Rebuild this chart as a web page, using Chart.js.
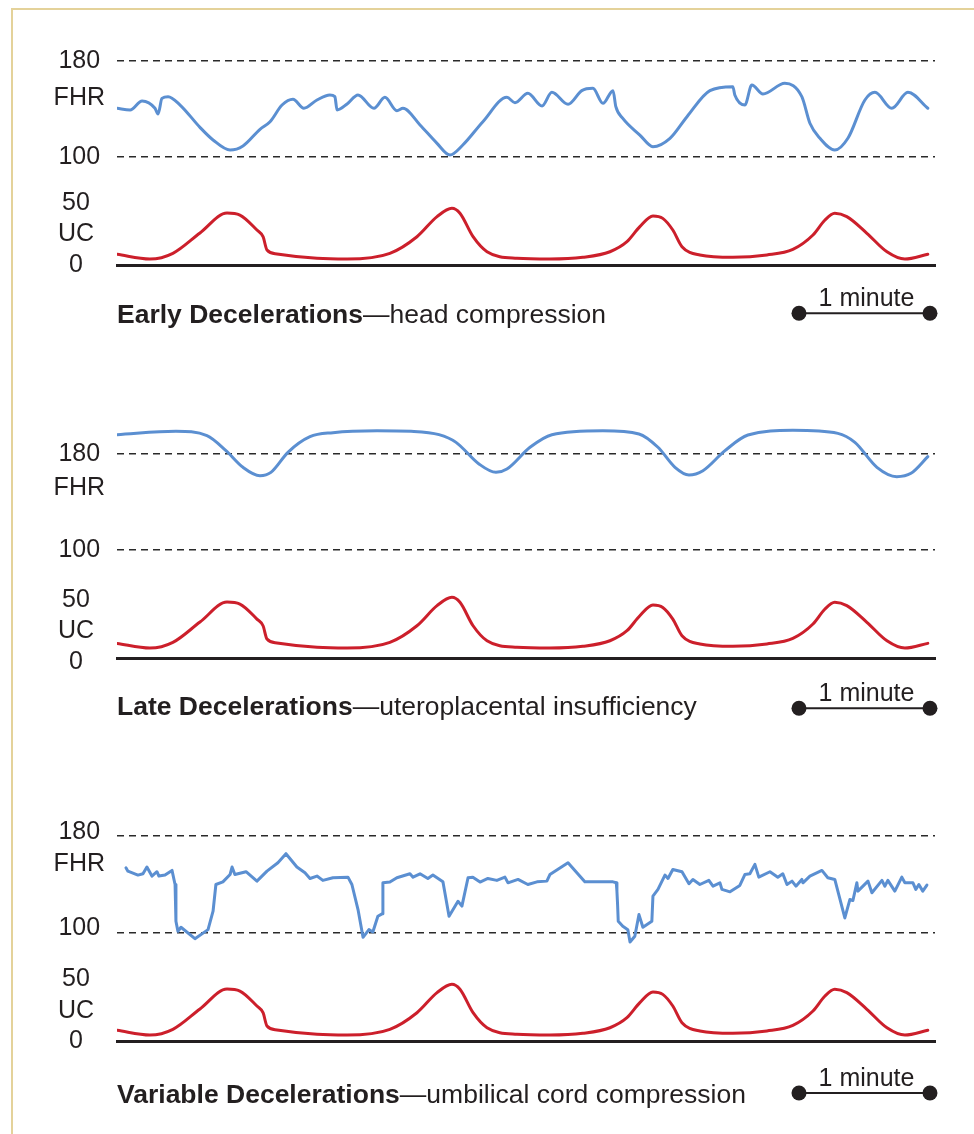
<!DOCTYPE html>
<html>
<head>
<meta charset="utf-8">
<script src="https://cdn.jsdelivr.net/npm/chart.js@4/dist/chart.umd.min.js"></script>
<style>
html,body{margin:0;padding:0;background:#fff;}
body{width:974px;height:1134px;position:relative;overflow:hidden;font-family:"Liberation Sans",Arial,Helvetica,sans-serif;color:#231f20;}
#frame{position:absolute;left:11px;top:8px;width:980px;height:1140px;border-left:2px solid #e4d29a;border-top:2px solid #e4d29a;}
canvas{position:absolute;left:40px;}
.title{position:absolute;left:117px;font-size:26.5px;line-height:30px;white-space:nowrap;}
.title b{font-weight:bold;}
.minute{position:absolute;font-size:25px;line-height:30px;white-space:nowrap;transform:translateX(-50%);}
</style>
</head>
<body>
<div id="frame"></div>
<script>
// ---------- DATA (time in seconds, FHR in bpm, UC in mmHg) ----------
const UC_TIME = [0,15.1,25.6,38.0,50.4,56.3,64.1,66.9,68.7,73.3,
  91.6,105.4,125.0,137.4,146.6,153.4,157.1,163.1,169.5,183.2,
  198.3,213.4,225.8,233.6,239.5,245.5,250.0,254.6,258.8,267.0,
  282.1,297.7,309.6,318.8,324.3,328.8,334.3,343.5,352.7,360.9,371.4];
const UC_VALUES = [8.6,4.8,9.4,25.8,41.9,40.3,28.2,22.8,12.1,8.9,
  5.4,4.8,9.4,22.8,39,45.7,41.7,22.8,10.7,5.4,
  4.8,6.2,10.7,18.8,30.9,39.5,37.6,28.2,14.8,8.1,
  6.2,8.1,12.6,24.2,36.3,41.7,39,25.6,10.7,4.8,8.6];

const EARLY_TIME = [0,6.0,11.5,17.4,18.8,20.6,23.4,28.9,38.0,44.0,
  51.8,57.7,65.5,70.1,75.6,80.6,85.6,91.6,97.5,99.8,
  100.8,105.4,110.4,117.7,122.7,128.2,131.0,138.8,146.6,152.5,
  158.4,167.6,178.6,182.3,188.2,194.7,199.2,206.6,212.9,218.0,
  222.6,227.2,228.5,231.7,239.5,245.5,253.3,261.1,271.6,282.1,
  283.0,287.6,290.8,295.9,305.9,313.7,317.4,322.0,328.8,334.8,
  342.6,347.2,354.9,362.3,371.4];
const EARLY_FHR = [140.6,139.2,146.7,140.6,135.8,148.9,150.3,143.3,124.7,114.2,
  105.8,109.2,123.1,129.4,143.3,148.1,140.6,147.5,151.7,150.3,
  139.2,144.2,151.7,140.6,149.7,138.6,140.6,126.7,111.4,101.7,
  110,129.4,149.7,145.3,153.1,142.5,153.9,143.9,155.3,157.2,
  144.7,155.3,141.9,132.2,118.3,108.6,115.6,133.6,155.3,158.6,
  151.7,143.3,160,152.5,161.4,150.3,128.1,115.6,105.8,115.6,
  147.5,153.9,140.6,153.9,140.6];

const LATE_TIME = [0,27.0,41.2,49.9,57.7,65.5,70.5,78.3,88.4,98.9,
  119.1,134.7,147.5,155.3,165.8,173.6,178.6,189.2,199.2,222.6,
  239.1,247.8,255.6,262.0,268.4,278.5,289.0,309.6,330.2,338.0,
  348.1,357.2,363.7,371.4];
const LATE_FHR = [196.1,198.9,195.3,182.8,168.9,161.9,164.7,181.4,194.4,197.8,
  199.4,198.9,196.1,189.7,171.7,164.7,167.5,185.6,196.1,199.4,
  196.7,185.6,168.9,162.5,166.1,182.8,195.8,199.7,197.2,189.7,
  168.9,161.1,163.9,177.8];

const VARIABLE_TIME = [4.1,5.0,9.6,11.9,13.7,16.0,18.3,19.2,22.0,25.2,
  26.6,27.0,27.9,29.3,35.7,41.7,44.0,45.3,48.5,51.8,
  52.7,54.0,59.1,64.1,68.7,73.7,77.4,82.4,86.1,88.4,
  91.6,94.3,98.9,105.8,107.6,110.4,112.7,115.4,117.2,119.5,
  121.4,121.8,125.0,128.2,134.2,135.6,138.8,142.4,144.7,149.3,
  152.1,156.2,158.0,160.8,163.0,166.3,169.9,174.0,177.7,179.1,
  183.7,188.2,192.4,196.9,198.3,206.6,214.3,227.2,228.7,229.0,
  229.3,229.6,231.7,234.0,235.0,237.2,239.1,240.9,245.0,245.5,
  247.8,251.0,252.4,254.6,258.8,262.0,263.8,267.0,271.1,273.0,
  276.2,277.1,280.8,285.3,287.6,289.9,292.2,294.0,299.1,302.7,
  305.0,306.9,309.2,311.0,313.7,314.2,317.4,322.9,325.6,328.8,
  333.4,335.7,337.1,338.9,339.4,344.0,345.8,350.4,351.7,353.1,
  356.3,359.5,360.9,364.6,365.9,367.3,369.1,371.0];
const VARIABLE_FHR = [153.6,150.8,147.5,148.6,154.2,146.7,150.3,146.7,147.5,151.4,
  139.7,109.2,100.8,104.2,94.7,102.2,117.5,139.7,141.9,148,
  154.2,148,150.3,142.5,150.8,157.8,165.3,154.2,149.4,144.7,
  146.7,143.1,145.3,145.8,139.7,118.9,95.8,102.2,100.3,113.3,
  115.3,141.1,141.7,145.3,148.6,145.8,148.6,144.7,147.5,141.9,
  113.3,125.8,121.7,145.3,145.8,141.7,144.7,143.1,145.8,141.1,
  143.9,139.7,141.9,142.5,148,157.8,141.9,141.9,141.1,134.2,
  123.1,109.2,105,102.2,91.9,96.7,114.7,104.2,109.2,130,
  135.6,147.5,144.7,152.2,150.3,140.3,143.9,139.7,143.1,138.3,
  141.1,135.6,133.6,138.9,148,148.6,156.4,145.8,150.3,145.8,
  148.6,139.7,142.5,138.3,143.9,141.1,146.7,151.4,145.3,143.9,
  111.9,127.2,126.4,141.1,134.2,142.5,132.8,143.1,138.3,143.1,
  134.2,145.8,141.1,141.1,135.6,139.7,134.2,139.2];

const FHR_TICKS = [100, 180];
const UC_TICKS = [0, 50];
const FHR_NAME = 'FHR';
const UC_NAME = 'UC';
const TITLE_BOLD = ['Early Decelerations', 'Late Decelerations', 'Variable Decelerations'];
const TITLE_REST = ['head compression', 'uteroplacental insufficiency', 'umbilical cord compression'];
const SCALE_LABEL = '1 minute';
const SCALE_BAR_SECONDS = 60;
const SCALE_BAR_END = 372.4;
const TIME_MAX = 374.7;

// ---------- STYLE / LAYOUT ----------
const BLUE = '#5b8fd1';
const RED = '#cc1f2b';
const INK = '#231f20';
const FONT = '"Liberation Sans", Arial, Helvetica, sans-serif';

const PANELS = [
  {time: EARLY_TIME, fhr: EARLY_FHR, top: 35, areaTop: 45, split: 181, bottom: 265,
   fhrMin: 80, fhrMax: 193.33, ucMin: 0, ucMax: 67.74, fhrName: 148.75, ucName: 25,
   fhrOff: 0, ucOff: 0, mode: 'monotone', barGap: 48.3, titleTop: 298.6, minuteTop: 282},
  {time: LATE_TIME, fhr: LATE_FHR, top: 405, areaTop: 415, split: 574, bottom: 658,
   fhrMin: 80, fhrMax: 212.5, ucMin: -3.2, ucMax: 64.54, fhrName: 151.25, ucName: 25,
   fhrOff: 0, ucOff: 8, mode: 'monotone', barGap: 50.3, titleTop: 691, minuteTop: 677},
  {time: VARIABLE_TIME, fhr: VARIABLE_FHR, top: 806, areaTop: 816, split: 956, bottom: 1041,
   fhrMin: 80.3, fhrMax: 196.6, ucMin: 0, ucMax: 68.55, fhrName: 152.9, ucName: 24,
   fhrOff: -4, ucOff: 0, mode: 'linear', barGap: 52, titleTop: 1078.6, minuteTop: 1062}
];

const scaleBarPlugin = {
  id: 'scaleBar',
  afterDraw(chart, args, opts) {
    const {ctx, chartArea, scales} = chart;
    const x1 = scales.x.getPixelForValue(SCALE_BAR_END - SCALE_BAR_SECONDS);
    const x2 = scales.x.getPixelForValue(SCALE_BAR_END);
    const y = chartArea.bottom + opts.gap;
    ctx.save();
    ctx.strokeStyle = INK; ctx.lineWidth = 2;
    ctx.beginPath(); ctx.moveTo(x1, y); ctx.lineTo(x2, y); ctx.stroke();
    ctx.fillStyle = INK;
    [x1, x2].forEach(px => { ctx.beginPath(); ctx.arc(px, y, 7.5, 0, Math.PI * 2); ctx.fill(); });
    ctx.restore();
  }
};

const X_AXIS_H = 75;
function fitLeftAxis(s) {
  s.width = 77;
  s.paddingTop = 0;
  s.paddingBottom = 0;
}

PANELS.forEach((p, idx) => {
  const H = p.bottom + X_AXIS_H - p.top;
  const canvas = document.createElement('canvas');
  canvas.width = 900; canvas.height = H;
  canvas.style.top = p.top + 'px';
  canvas.style.width = '900px'; canvas.style.height = H + 'px';
  document.body.appendChild(canvas);

  const fhrTickVals = FHR_TICKS.concat([p.fhrName]);
  const ucTickVals = UC_TICKS.concat([p.ucName]);
  const tickFont = {family: FONT, size: 25};

  const chart = new Chart(canvas, {
    type: 'line',
    data: {
      datasets: [
        {data: p.time.map((t, i) => ({x: t, y: p.fhr[i]})), yAxisID: 'fhr',
         borderColor: BLUE, borderWidth: 3, pointRadius: 0, fill: false,
         cubicInterpolationMode: p.mode === 'monotone' ? 'monotone' : 'default', tension: 0,
         borderJoinStyle: 'round', borderCapStyle: 'round'},
        {data: UC_TIME.map((t, i) => ({x: t, y: UC_VALUES[i]})), yAxisID: 'uc',
         borderColor: RED, borderWidth: 3, pointRadius: 0, fill: false,
         cubicInterpolationMode: 'monotone', borderCapStyle: 'round'}
      ]
    },
    options: {
      responsive: false, animation: false, devicePixelRatio: 1,
      layout: {padding: {top: 10, right: 5, bottom: 0, left: 0}},
      plugins: {legend: {display: false}, tooltip: {enabled: false}, scaleBar: {gap: p.barGap}},
      scales: {
        x: {type: 'linear', min: 0, max: TIME_MAX,
            ticks: {display: false}, grid: {display: false},
            border: {display: true, color: INK, width: 3},
            afterFit(s) { s.height = X_AXIS_H; s.paddingLeft = 0; s.paddingRight = 0; }},
        fhr: {type: 'linear', position: 'left', stack: 'panel', stackWeight: p.split - p.areaTop, weight: 2,
              min: p.fhrMin, max: p.fhrMax,
              afterBuildTicks(s) { s.ticks = fhrTickVals.map(v => ({value: v})); },
              ticks: {autoSkip: false, crossAlign: 'center', padding: 12, labelOffset: p.fhrOff,
                      color: INK, font: tickFont,
                      callback: v => v === p.fhrName ? FHR_NAME : String(v)},
              grid: {drawTicks: false, lineWidth: 1.5,
                     color: c => (c.tick && c.tick.value === p.fhrName) ? 'rgba(0,0,0,0)' : '#2a2a2a'},
              border: {display: false, dash: [7, 5]},
              afterFit: fitLeftAxis},
        uc: {type: 'linear', position: 'left', stack: 'panel', stackWeight: p.bottom - p.split, weight: 1,
             min: p.ucMin, max: p.ucMax,
             afterBuildTicks(s) { s.ticks = ucTickVals.map(v => ({value: v})); },
             ticks: {autoSkip: false, crossAlign: 'center', padding: 23, labelOffset: p.ucOff,
                     color: INK, font: tickFont,
                     callback: v => v === p.ucName ? UC_NAME : String(v)},
             grid: {display: false, drawTicks: false},
             border: {display: false},
             afterFit: fitLeftAxis}
      }
    },
    plugins: [scaleBarPlugin]
  });

  const title = document.createElement('div');
  title.className = 'title';
  title.style.top = p.titleTop + 'px';
  title.innerHTML = '<b>' + TITLE_BOLD[idx] + '</b>\u2014' + TITLE_REST[idx];
  document.body.appendChild(title);

  const mid = (chart.scales.x.getPixelForValue(SCALE_BAR_END - SCALE_BAR_SECONDS) +
               chart.scales.x.getPixelForValue(SCALE_BAR_END)) / 2;
  const minute = document.createElement('div');
  minute.className = 'minute';
  minute.style.left = (40 + mid + 2) + 'px';
  minute.style.top = p.minuteTop + 'px';
  minute.textContent = SCALE_LABEL;
  document.body.appendChild(minute);
});
</script>
</body>
</html>
